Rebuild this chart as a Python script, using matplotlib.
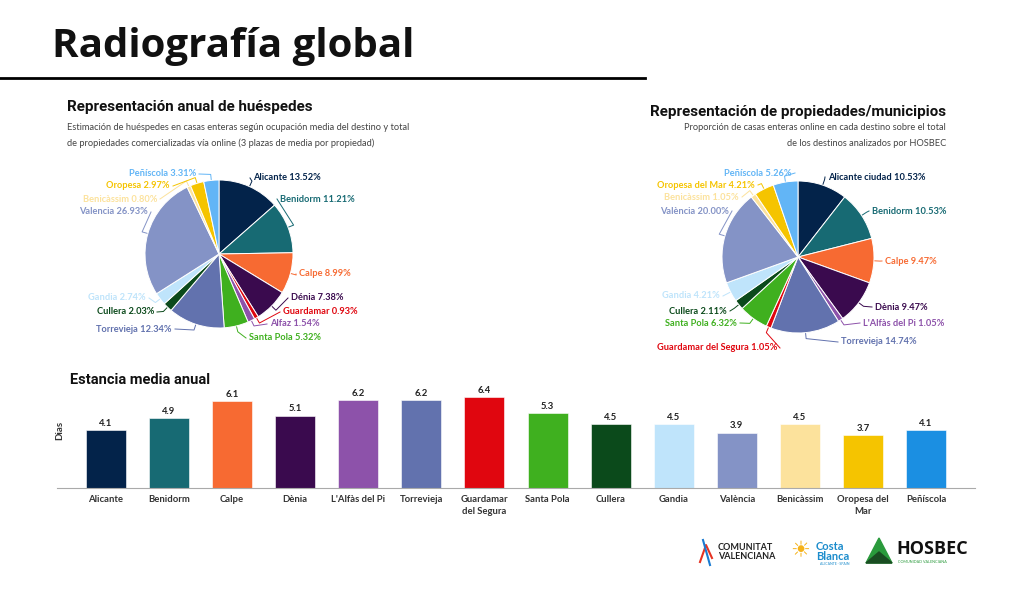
import numpy as np
import matplotlib.pyplot as plt
from matplotlib.patches import Polygon

# Datos: huéspedes por destino (%)
destinos_huespedes = ['Alicante', 'Benidorm', 'Calpe', 'Dénia', 'Guardamar', 'Alfaz', 'Santa Pola',
                      'Torrevieja', 'Cullera', 'Gandia', 'Valencia', 'Benicàssim', 'Oropesa', 'Peñíscola']
pct_huespedes = [13.52, 11.21, 8.99, 7.38, 0.93, 1.54, 5.32, 12.34, 2.03, 2.74, 26.93, 0.80, 2.97, 3.31]

# Datos: propiedades por municipio (%)
destinos_propiedades = ['Alicante ciudad', 'Benidorm', 'Calpe', 'Dènia', "L'Alfàs del Pi", 'Torrevieja',
                        'Guardamar del Segura', 'Santa Pola', 'Cullera', 'Gandia', 'València', 'Benicàssim',
                        'Oropesa del Mar', 'Peñíscola']
pct_propiedades = [10.53, 10.53, 9.47, 9.47, 1.05, 14.74, 1.05, 6.32, 2.11, 4.21, 20.00, 1.05, 4.21, 5.26]

# Datos: estancia media anual (días)
municipios = ['Alicante', 'Benidorm', 'Calpe', 'Dènia', "L'Alfàs del Pi", 'Torrevieja', 'Guardamar\ndel Segura',
              'Santa Pola', 'Cullera', 'Gandia', 'València', 'Benicàssim', 'Oropesa del\nMar', 'Peñíscola']
estancia = [4.1, 4.9, 6.1, 5.1, 6.2, 6.2, 6.4, 5.3, 4.5, 4.5, 3.9, 4.5, 3.7, 4.1]

# Colores
C = {'alicante': '#03234a', 'benidorm': '#176a73', 'calpe': '#f76a32', 'denia': '#3a0a4e',
     'guardamar': '#e0060f', 'alfaz': '#8d52aa', 'santapola': '#3fb01f', 'torrevieja': '#6272ae',
     'cullera': '#0b4a1b', 'gandia': '#bfe4fb', 'valencia': '#8493c6', 'benicassim': '#fce29c',
     'oropesa': '#f5c400', 'peniscola': '#62b5f6', 'peniscola_bar': '#1b8fe2'}
col_huesp = [C[k] for k in ['alicante', 'benidorm', 'calpe', 'denia', 'guardamar', 'alfaz', 'santapola',
                            'torrevieja', 'cullera', 'gandia', 'valencia', 'benicassim', 'oropesa', 'peniscola']]
col_prop = [C[k] for k in ['alicante', 'benidorm', 'calpe', 'denia', 'alfaz', 'torrevieja', 'guardamar',
                           'santapola', 'cullera', 'gandia', 'valencia', 'benicassim', 'oropesa', 'peniscola']]
col_bar = [C[k] for k in ['alicante', 'benidorm', 'calpe', 'denia', 'alfaz', 'torrevieja', 'guardamar',
                          'santapola', 'cullera', 'gandia', 'valencia', 'benicassim', 'oropesa', 'peniscola_bar']]

# posiciones de las etiquetas (px): (x, y, lado) lado=1 a la derecha, -1 a la izquierda
pos_huesp = [(253, 178, 1), (280, 199, 1), (299, 274, 1), (291, 298, 1), (283, 312, 1), (270, 324, 1),
             (249, 338, 1), (172, 329, -1), (154, 312, -1), (146, 298, -1), (148, 212, -1), (157, 199, -1),
             (170, 186, -1), (196, 174, -1)]
pos_prop = [(828, 177, 1), (872, 211, 1), (885, 261, 1), (875, 307, 1), (863, 323, 1), (841, 342, 1),
            (777, 348, -1), (737, 323, -1), (727, 311, -1), (720, 296, -1), (729, 211, -1), (739, 197, -1),
            (755, 185, -1), (792, 173, -1)]

W, H = 1024, 589
fig = plt.figure(figsize=(W / 100, H / 100), dpi=100)
fig.patch.set_facecolor('white')
bg = fig.add_axes([0, 0, 1, 1])
bg.set_xlim(0, W)
bg.set_ylim(H, 0)
bg.axis('off')

fuente = ['Lato', 'DejaVu Sans']
titulo = ['Roboto', 'DejaVu Sans']

# Cabecera
bg.text(52, 46, 'Radiografía global', fontsize=29, fontweight='bold', family=['Open Sans', 'DejaVu Sans'],
        va='center', ha='left', color='#111111')
bg.plot([0, 645], [78, 78], color='black', lw=2)

# Títulos de los quesos
bg.text(67, 107, 'Representación anual de huéspedes', fontsize=10.9, fontweight='bold', family=titulo,
        va='center', color='#111111')
bg.text(67, 127, 'Estimación de huéspedes en casas enteras según ocupación media del destino y total',
        fontsize=6.7, family=fuente, va='center', color='#444444')
bg.text(67, 143, 'de propiedades comercializadas vía online (3 plazas de media por propiedad)',
        fontsize=6.7, family=fuente, va='center', color='#444444')

bg.text(946, 112, 'Representación de propiedades/municipios', fontsize=10.9, fontweight='bold', family=titulo,
        va='center', ha='right', color='#111111')
bg.text(946, 128, 'Proporción de casas enteras online en cada destino sobre el total',
        fontsize=6.7, family=fuente, va='center', ha='right', color='#444444')
bg.text(946, 144, 'de los destinos analizados por HOSBEC',
        fontsize=6.7, family=fuente, va='center', ha='right', color='#444444')


def dibujar_queso(cx, cy, r, valores, nombres, colores, posiciones):
    ax = fig.add_axes([(cx - r) / W, 1 - (cy + r) / H, 2 * r / W, 2 * r / H])
    wedges, _ = ax.pie(valores, colors=colores, startangle=90, counterclock=False,
                       wedgeprops=dict(edgecolor='white', linewidth=0.7))
    ax.set_xlim(-1, 1)
    ax.set_ylim(-1, 1)
    ax.set_aspect('equal')
    ax.axis('off')
    for w, nombre, v, col, (lx, ly, lado) in zip(wedges, nombres, valores, colores, posiciones):
        ang = np.deg2rad((w.theta1 + w.theta2) / 2)
        x0, y0 = cx + r * np.cos(ang), cy - r * np.sin(ang)
        x1, y1 = cx + (r + 6) * np.cos(ang), cy - (r + 6) * np.sin(ang)
        xe = lx - lado * 3
        bg.plot([x0, x1, xe], [y0, y1, ly], color=col, lw=0.7)
        bg.text(lx, ly, f'{nombre} {v:.2f}%', fontsize=6.7, fontweight='bold', family=fuente,
                color=col, va='center', ha='left' if lado > 0 else 'right')


dibujar_queso(219, 254, 74, pct_huespedes, destinos_huespedes, col_huesp, pos_huesp)
dibujar_queso(798, 257, 76, pct_propiedades, destinos_propiedades, col_prop, pos_prop)

# Barras: estancia media
bg.text(70, 380, 'Estancia media anual', fontsize=10.5, fontweight='bold', family=titulo,
        va='center', color='#111111')
x0p, x1p, ybase, ytop = 57, 975, 488, 390
axb = fig.add_axes([x0p / W, 1 - ybase / H, (x1p - x0p) / W, (ybase - ytop) / H])
x = np.arange(len(municipios))
unidad = (926 - 106) / 13
axb.bar(x, estancia, width=40 / unidad, color=col_bar, edgecolor='white', linewidth=0.4)
axb.set_xlim(-(106 - x0p) / unidad, 13 + (x1p - 926) / unidad)
axb.set_ylim(0, (ybase - ytop) / 14.2)
for xi, v in zip(x, estancia):
    axb.text(xi, v + 0.15, f'{v:.1f}', ha='center', va='bottom', fontsize=6.8, fontweight='bold',
             family=fuente, color='#222222')
axb.set_xticks(x)
axb.set_xticklabels(municipios, fontsize=6.8, fontweight='bold', family=fuente, color='#333333',
                    linespacing=1.5)
axb.tick_params(axis='x', length=0, pad=5)
axb.set_yticks([])
for s in ['top', 'right', 'left']:
    axb.spines[s].set_visible(False)
axb.spines['bottom'].set_color('#aaaaaa')
axb.spines['bottom'].set_linewidth(0.8)
axb.patch.set_alpha(0)
bg.text(60, 430, 'Dias', rotation=90, fontsize=7, fontweight='bold', family=fuente,
        va='center', ha='center', color='#333333')

# Logos (aproximación con texto)
bg.text(718, 552, 'COMUNITAT\nVALENCIANA', fontsize=6.5, fontweight='bold', family=fuente,
        va='center', ha='left', color='#222222', linespacing=1.0)
bg.plot([700, 706, 712], [562, 545, 558], color='#e63323', lw=1.5)
bg.plot([703, 710], [540, 565], color='#1a7bd1', lw=1.5)
bg.text(800, 551, '☀', fontsize=16, color='#f5b21a', va='center', ha='center', family=['DejaVu Sans'])
bg.text(816, 546, 'Costa', fontsize=8, fontweight='bold', family=fuente, color='#1c8ccc', va='center')
bg.text(816, 556, 'Blanca', fontsize=8, fontweight='bold', family=fuente, color='#1c8ccc', va='center')
bg.text(820, 564, 'ALICANTE · SPAIN', fontsize=2.5, family=fuente, color='#1c8ccc', va='center')
bg.add_patch(Polygon([[866, 563], [879, 538], [892, 563]], closed=True, color='#2a9a3c'))
bg.add_patch(Polygon([[866, 563], [879, 552], [892, 563]], closed=True, color='#1a4d22'))
bg.text(896, 549, 'HOSBEC', fontsize=13, fontweight='bold', family=['Open Sans', 'DejaVu Sans'],
        color='#111111', va='center')
bg.text(898, 562, 'COMUNIDAD VALENCIANA', fontsize=2.7, family=fuente, color='#2a9a3c', va='center')

fig.savefig('out.png', dpi=100)
